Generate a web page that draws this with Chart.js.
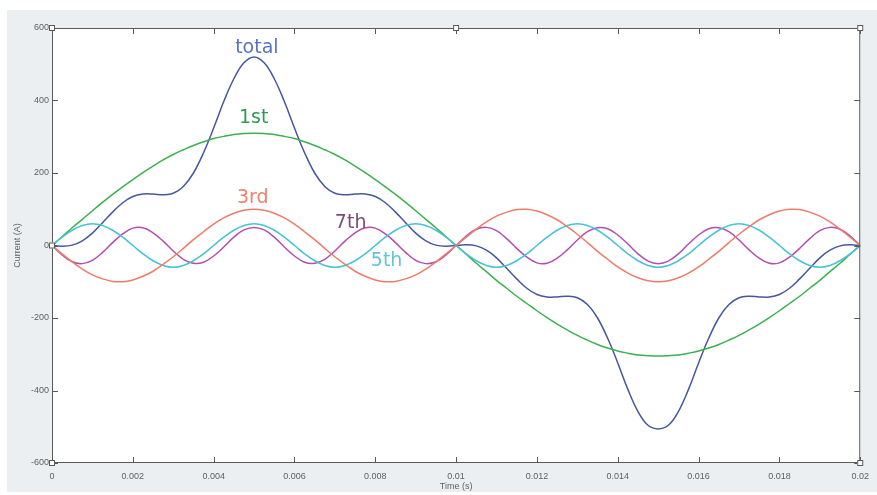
<!DOCTYPE html>
<html>
<head>
<meta charset="utf-8">
<script src="https://cdn.jsdelivr.net/npm/chart.js@4/dist/chart.umd.min.js"></script>
<style>
  html, body { margin: 0; padding: 0; background: #fff; }
  #wrap { width: 877px; height: 495px; position: relative; }
</style>
</head>
<body>
<div id="wrap"><canvas id="harmonics"></canvas></div>
<script>
// sample times, 0.25 ms apart
var times = [
    0, 0.00025, 0.0005, 0.00075, 0.001, 0.00125, 0.0015, 0.00175, 0.002, 0.00225,
    0.0025, 0.00275, 0.003, 0.00325, 0.0035, 0.00375, 0.004, 0.00425, 0.0045, 0.00475,
    0.005, 0.00525, 0.0055, 0.00575, 0.006, 0.00625, 0.0065, 0.00675, 0.007, 0.00725,
    0.0075, 0.00775, 0.008, 0.00825, 0.0085, 0.00875, 0.009, 0.00925, 0.0095, 0.00975,
    0.01, 0.01025, 0.0105, 0.01075, 0.011, 0.01125, 0.0115, 0.01175, 0.012, 0.01225,
    0.0125, 0.01275, 0.013, 0.01325, 0.0135, 0.01375, 0.014, 0.01425, 0.0145, 0.01475,
    0.015, 0.01525, 0.0155, 0.01575, 0.016, 0.01625, 0.0165, 0.01675, 0.017, 0.01725,
    0.0175, 0.01775, 0.018, 0.01825, 0.0185, 0.01875, 0.019, 0.01925, 0.0195, 0.01975,
    0.02
];

var totalCurrent = [
    0, -2, 1, 13, 34, 63, 92, 118, 135, 142, 142, 140, 144, 163, 200, 256, 324, 397, 460, 504,
    520, 504, 460, 397, 324, 256, 200, 163, 144, 140, 142, 142, 135, 118, 92, 63, 34, 13, 1, -2,
    0, 2, -1, -13, -34, -63, -92, -118, -135, -142, -142, -140, -144, -163, -200, -256, -324, -397, -458, -496,
    -506, -496, -458, -397, -324, -256, -200, -163, -144, -140, -142, -142, -135, -118, -92, -63, -34, -13, -1, 2,
    0
];

var first = [
    0, 24, 49, 72, 96, 119, 141, 162, 182, 201, 219, 236, 251, 264, 276, 286, 295, 301, 306, 309,
    310, 309, 306, 301, 295, 286, 276, 264, 251, 236, 219, 201, 182, 162, 141, 119, 96, 72, 49, 24,
    0, -24, -49, -72, -96, -118, -140, -160, -180, -199, -217, -233, -248, -261, -273, -283, -291, -297, -302, -304,
    -305, -304, -302, -297, -291, -283, -273, -261, -248, -233, -217, -199, -180, -160, -140, -118, -96, -72, -49, -24,
    0
];

var third = [
    0, -23, -45, -65, -81, -92, -99, -100, -95, -85, -71, -52, -31, -8, 16, 38, 59, 76, 89, 97,
    100, 97, 89, 76, 59, 38, 16, -8, -31, -52, -71, -85, -95, -100, -99, -92, -81, -65, -45, -23,
    0, 23, 45, 65, 81, 92, 99, 100, 95, 85, 71, 52, 31, 8, -16, -38, -59, -76, -89, -97,
    -100, -97, -89, -76, -59, -38, -16, 8, 31, 52, 71, 85, 95, 100, 99, 92, 81, 65, 45, 23,
    0
];

var fifth = [
    0, 23, 42, 55, 60, 55, 42, 23, 0, -23, -42, -55, -60, -55, -42, -23, 0, 23, 42, 55,
    60, 55, 42, 23, 0, -23, -42, -55, -60, -55, -42, -23, 0, 23, 42, 55, 60, 55, 42, 23,
    0, -23, -42, -55, -60, -55, -42, -23, 0, 23, 42, 55, 60, 55, 42, 23, 0, -23, -42, -55,
    -60, -55, -42, -23, 0, 23, 42, 55, 60, 55, 42, 23, 0, -23, -42, -55, -60, -55, -42, -23,
    0
];

var seventh = [
    0, -26, -45, -50, -41, -19, 8, 32, 48, 49, 35, 12, -15, -38, -49, -46, -29, -4, 23, 43,
    50, 43, 23, -4, -29, -46, -49, -38, -15, 12, 35, 49, 48, 32, 8, -19, -41, -50, -45, -26,
    0, 26, 45, 50, 41, 19, -8, -32, -48, -49, -35, -12, 15, 38, 49, 46, 29, 4, -23, -43,
    -50, -43, -23, 4, 29, 46, 49, 38, 15, -12, -35, -49, -48, -32, -8, 19, 41, 50, 45, 26,
    0
];

var xTicks = [0, 0.002, 0.004, 0.006, 0.008, 0.01, 0.012, 0.014, 0.016, 0.018, 0.02];
var yTicks = [-600, -400, -200, 0, 200, 400, 600];

// curve names written inside the plot, anchored in data units
var curveNames = ["total", "1st", "3rd", "7th", "5th"];
var nameAt = [[0.00507, 545], [0.00499, 352], [0.00497, 131], [0.00739, 62], [0.00828, -43]];
var nameColors = ["#5874c2", "#2f9a52", "#f0806e", "#7c4b7c", "#62c6d6"];

function points(values) {
    return values.map(function (v, i) { return { x: times[i], y: v }; });
}

var series = [
    { label: "3rd", data: points(third), color: "#ee7c6b" },
    { label: "5th", data: points(fifth), color: "#47c2d6" },
    { label: "7th", data: points(seventh), color: "#b24fae" },
    { label: "1st", data: points(first), color: "#3cb04f" },
    { label: "total", data: points(totalCurrent), color: "#46579f" }
];

var frame = {
    id: "frame",
    beforeDraw: function (chart) {
        var c = chart.ctx, a = chart.chartArea;
        c.save();
        c.fillStyle = "#ffffff";
        c.fillRect(0, 0, chart.width, chart.height);
        c.fillStyle = "#eceff2";
        c.fillRect(7, 10, chart.width - 7, chart.height - 13);
        c.fillStyle = "#ffffff";
        c.fillRect(a.left, a.top, a.right - a.left, a.bottom - a.top);
        c.restore();
    },
    afterDatasetsDraw: function (chart) {
        var c = chart.ctx, a = chart.chartArea;
        var xs = chart.scales.x, ys = chart.scales.y;
        c.save();
        // box and inward tick marks on all four sides
        c.strokeStyle = "#5a5a5a";
        c.lineWidth = 1;
        c.strokeRect(a.left + 0.5, a.top + 0.5, a.right - a.left - 1, a.bottom - a.top - 1);
        c.beginPath();
        xTicks.forEach(function (t) {
            var px = Math.round(xs.getPixelForValue(t)) + 0.5;
            c.moveTo(px, a.bottom); c.lineTo(px, a.bottom - 6);
            c.moveTo(px, a.top); c.lineTo(px, a.top + 6);
        });
        yTicks.forEach(function (v) {
            var py = Math.round(ys.getPixelForValue(v)) + 0.5;
            c.moveTo(a.left, py); c.lineTo(a.left + 6, py);
            c.moveTo(a.right, py); c.lineTo(a.right - 6, py);
        });
        c.stroke();
        // small handle squares on the frame
        var handles = [[0, 600], [0, 0], [0, -600], [0.01, 600], [0.02, 600], [0.02, -600]];
        c.fillStyle = "#ffffff";
        handles.forEach(function (h) {
            var px = xs.getPixelForValue(h[0]), py = ys.getPixelForValue(h[1]);
            c.fillRect(px - 3, py - 3, 6, 6);
            c.strokeRect(px - 2.5, py - 2.5, 5, 5);
        });
        // curve names
        c.font = "19px 'DejaVu Sans'";
        c.textAlign = "center";
        c.textBaseline = "middle";
        curveNames.forEach(function (name, i) {
            c.fillStyle = nameColors[i];
            c.fillText(name, xs.getPixelForValue(nameAt[i][0]), ys.getPixelForValue(nameAt[i][1]));
        });
        c.restore();
    }
};

var tickFont = { family: "'Liberation Sans', Arial, sans-serif", size: 9 };

new Chart(document.getElementById("harmonics"), {
    type: "line",
    data: {
        datasets: series.map(function (s) {
            return {
                label: s.label,
                data: s.data,
                borderColor: s.color,
                borderWidth: 1.5,
                pointRadius: 0,
                tension: 0.4,
                fill: false
            };
        })
    },
    options: {
        responsive: true,
        maintainAspectRatio: false,
        animation: false,
        layout: { padding: { left: 0, top: 28, right: 16, bottom: 0 } },
        plugins: {
            legend: { display: false },
            tooltip: { enabled: false }
        },
        scales: {
            x: {
                type: "linear",
                min: 0,
                max: 0.02,
                afterBuildTicks: function (scale) {
                    scale.ticks = xTicks.map(function (v) { return { value: v }; });
                },
                afterFit: function (scale) { scale.height = 32; },
                grid: { display: false, drawTicks: false },
                border: { display: false },
                ticks: {
                    font: tickFont,
                    color: "#5e5e5e",
                    padding: 8,
                    maxRotation: 0,
                    autoSkip: false,
                    callback: function (v) { return String(Math.round(v * 1000) / 1000); }
                },
                title: {
                    display: true,
                    text: "Time (s)",
                    font: tickFont,
                    color: "#5e5e5e",
                    padding: { top: 0, bottom: 3 }
                }
            },
            y: {
                min: -600,
                max: 600,
                afterBuildTicks: function (scale) {
                    scale.ticks = yTicks.map(function (v) { return { value: v }; });
                },
                afterFit: function (scale) { scale.width = 52; },
                grid: { display: false, drawTicks: false },
                border: { display: false },
                ticks: {
                    font: tickFont,
                    color: "#5e5e5e",
                    padding: 3,
                    autoSkip: false
                },
                title: {
                    display: true,
                    text: "Current (A)",
                    font: tickFont,
                    color: "#5e5e5e",
                    padding: { top: 12, bottom: 0 }
                }
            }
        }
    },
    plugins: [frame]
});
</script>
</body>
</html>
